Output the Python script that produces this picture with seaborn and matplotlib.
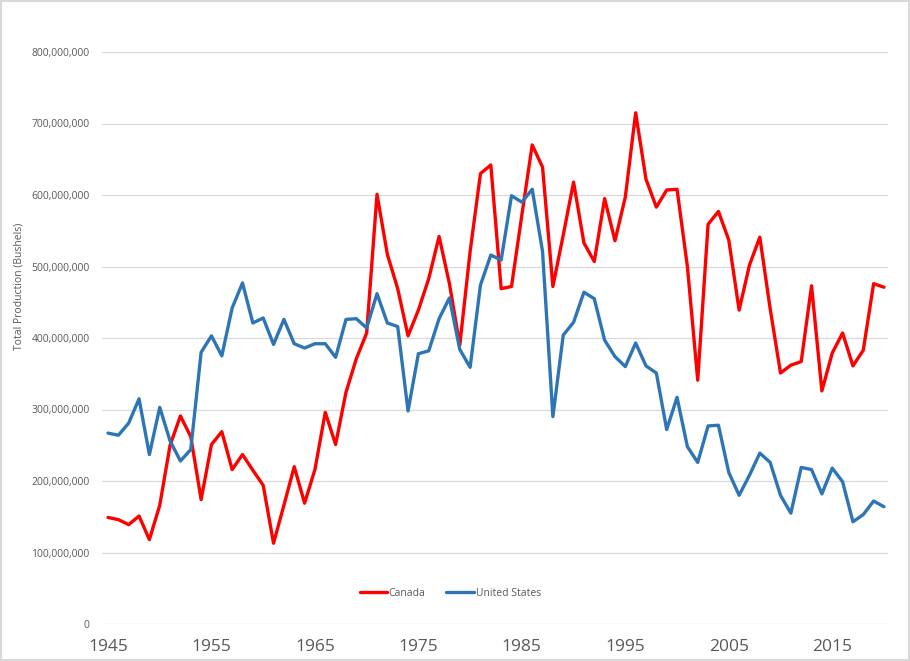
import matplotlib
matplotlib.use("Agg")
import matplotlib.pyplot as plt
import matplotlib.ticker as mticker
import seaborn as sns
import pandas as pd

years = list(range(1945, 2021))

canada = [149, 146, 139, 151, 118, 166, 250, 291, 262, 174,
          251, 269, 216, 237, 215, 194, 113, 166, 220, 169,
          216, 296, 251, 324, 371, 407, 601, 517, 469, 403,
          439, 483, 542, 476, 390, 521, 630, 642, 469, 472,
          572, 670, 639, 472, 544, 618, 533, 507, 595, 536,
          597, 715, 622, 583, 607, 608, 500, 341, 559, 577,
          537, 439, 502, 541, 441, 351, 362, 367, 473, 326,
          379, 407, 361, 383, 476, 471]

united_states = [267, 264, 281, 315, 237, 303, 256, 228, 244, 380,
                 403, 375, 442, 477, 421, 428, 391, 426, 392, 386,
                 392, 392, 373, 426, 427, 414, 462, 421, 416, 298,
                 378, 382, 427, 456, 384, 359, 474, 516, 509, 599,
                 590, 608, 521, 290, 404, 422, 464, 455, 397, 374,
                 360, 393, 361, 351, 272, 317, 248, 226, 277, 278,
                 212, 180, 208, 239, 226, 180, 155, 219, 216, 182,
                 218, 199, 143, 153, 172, 164]

series_names = ["Canada", "United States"]
x_ticks = [1945, 1955, 1965, 1975, 1985, 1995, 2005, 2015]
y_ticks = [0, 100, 200, 300, 400, 500, 600, 700, 800]
y_label = "Total Production (Bushels)"

df = pd.DataFrame({
    "Year": years * 2,
    "Production": [v * 1e6 for v in canada] + [v * 1e6 for v in united_states],
    "Country": [series_names[0]] * len(years) + [series_names[1]] * len(years),
})

sns.set_theme(style="white")
plt.rcParams["font.family"] = ["Open Sans", "DejaVu Sans"]

fig = plt.figure(figsize=(9.10, 6.61), dpi=100)
fig.patch.set_facecolor("white")
fig.patch.set_edgecolor("#D9D9D9")
fig.patch.set_linewidth(1.5)

ax = fig.add_axes([102 / 910, 1 - 624 / 661, 786 / 910, 572 / 661])

sns.lineplot(data=df, x="Year", y="Production", hue="Country",
             palette={"Canada": "#FF0000", "United States": "#2E75B6"},
             linewidth=2.4, ax=ax)

ax.set_xlim(1944.42, 2020.39)
ax.set_ylim(0, 800e6)
ax.set_xticks(x_ticks)
ax.set_yticks([v * 1e6 for v in y_ticks])
ax.yaxis.set_major_formatter(mticker.FuncFormatter(lambda v, p: f"{int(round(v)):,}"))

for s in ax.spines.values():
    s.set_visible(False)
ax.grid(axis="y", color="#D9D9D9", linewidth=0.9)
ax.grid(axis="x", visible=False)
ax.set_axisbelow(True)

ax.tick_params(axis="x", length=0, pad=11, labelsize=12.5, labelcolor="#595959")
ax.tick_params(axis="y", length=0, pad=9, labelsize=7.5, labelcolor="#595959")
for lbl in ax.get_yticklabels():
    lbl.set_clip_on(False)

ax.set_xlabel("")
ax.set_ylabel(y_label, fontsize=7.5, color="#595959")
ax.yaxis.set_label_coords(-0.099, 0.59)

leg = ax.legend(loc="center", bbox_to_anchor=(0.443, 0.054), ncol=2, frameon=False,
                fontsize=7.5, handlelength=2.6, columnspacing=2.0, handletextpad=0.2)
for t in leg.get_texts():
    t.set_color("#595959")

fig.savefig("out.png", dpi=100, facecolor="white", edgecolor=fig.get_edgecolor())
